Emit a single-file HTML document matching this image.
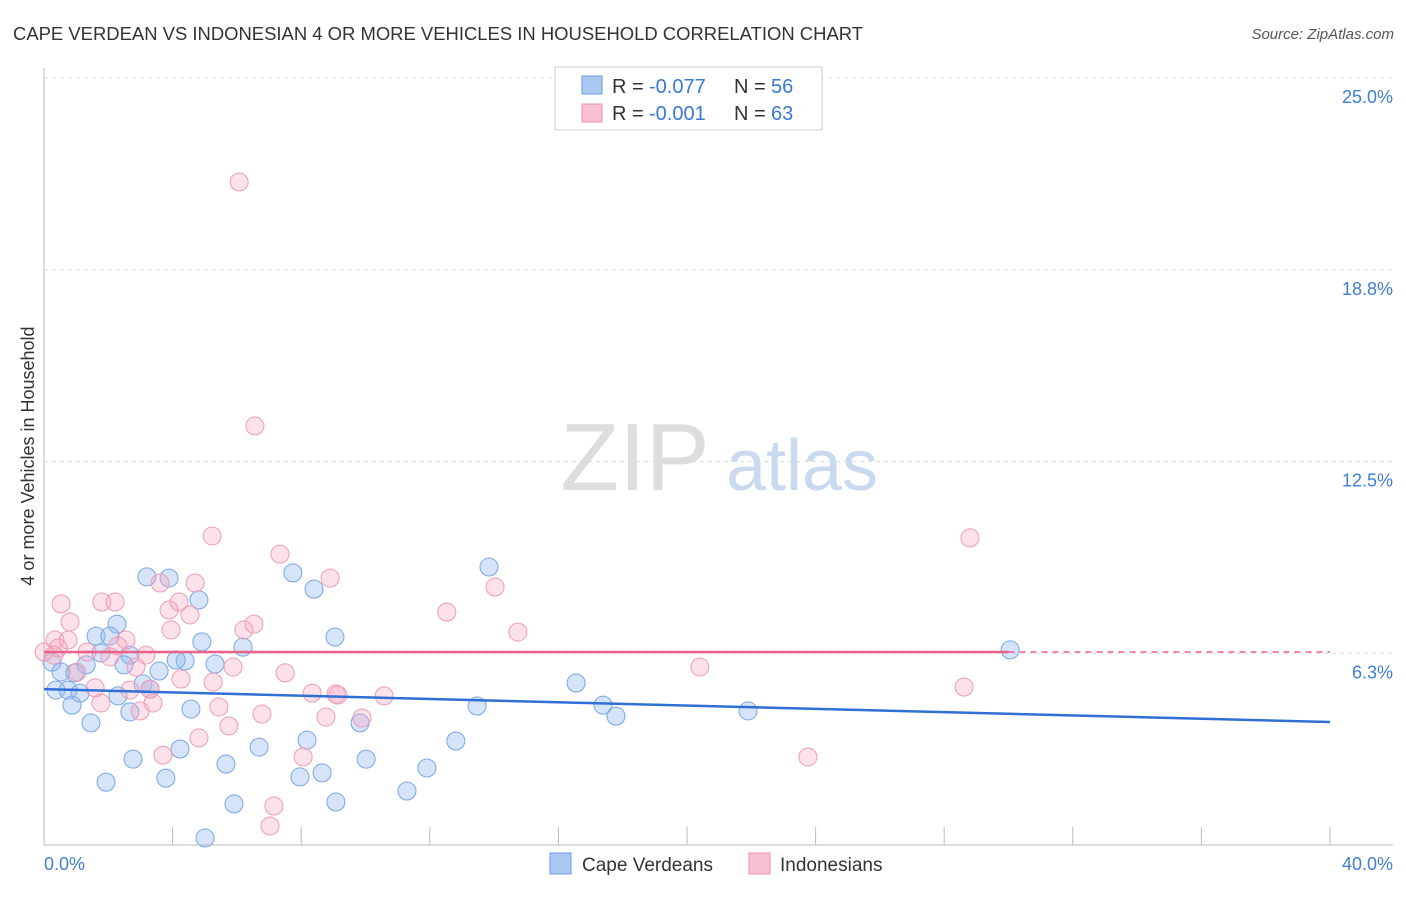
<!DOCTYPE html>
<html><head><meta charset="utf-8">
<style>
body{margin:0;background:#fff;font-family:"Liberation Sans",sans-serif;}
svg text{font-family:"Liberation Sans",sans-serif;}
</style></head>
<body>
<svg id="chart" width="1406" height="892" xmlns="http://www.w3.org/2000/svg">
<text x="13" y="40" font-size="18" fill="#333" textLength="850" lengthAdjust="spacingAndGlyphs">CAPE VERDEAN VS INDONESIAN 4 OR MORE VEHICLES IN HOUSEHOLD CORRELATION CHART</text>
<text x="1394" y="39" font-size="15" fill="#555" text-anchor="end" font-style="italic">Source: ZipAtlas.com</text>
<g>
<text x="635" y="490" font-size="96" fill="#ddd" text-anchor="middle" font-family="Liberation Serif">ZIP</text>
<text x="802" y="490" font-size="72" fill="#c8d9f0" text-anchor="middle">atlas</text>
</g>
<g id="grid"></g>
<g id="axes"></g>
<g id="points"></g>
<g id="trends"></g>
<text transform="translate(34,456) rotate(-90)" font-size="18" fill="#333" text-anchor="middle">4 or more Vehicles in Household</text>
<g>
<rect x="555" y="67" width="267" height="63" fill="#fff" stroke="#ccc"/>
<rect x="582" y="76" width="20" height="18" fill="#aac8f0" stroke="#6a9be0"/>
<rect x="582" y="104" width="20" height="18" fill="#f8c0d0" stroke="#eb8fab"/>
<text x="612" y="93" font-size="20" fill="#333">R = </text><text x="649" y="93" font-size="20" fill="#3a78d4">-0.077</text>
<text x="734" y="93" font-size="20" fill="#333">N = </text><text x="771" y="93" font-size="20" fill="#3a78d4">56</text>
<text x="612" y="120" font-size="20" fill="#333">R = </text><text x="649" y="120" font-size="20" fill="#3a78d4">-0.001</text>
<text x="734" y="120" font-size="20" fill="#333">N = </text><text x="771" y="120" font-size="20" fill="#3a78d4">63</text>
</g>
<g>
<rect x="550" y="853" width="21" height="21" fill="#aac8f0" stroke="#6a9be0"/>
<text x="582" y="871" font-size="19" fill="#333">Cape Verdeans</text>
<rect x="749" y="853" width="21" height="21" fill="#f8c0d0" stroke="#eb8fab"/>
<text x="780" y="871" font-size="19" fill="#333">Indonesians</text>
</g>
</svg>
<script>
const yTicks=[25,18.75,12.5,6.25];
const yTickLabels=["25.0%","18.8%","12.5%","6.3%"];
const xTicks=[0,4,8,12,16,20,24,28,32,36,40];
const blueX=[3.2,3.89,4.82,2.27,1.62,2.05,4.91,6.19,2.67,1.77,0.25,1.31,2.49,3.58,0.53,0.96,4.39,4.11,5.32,3.08,3.3,0.37,0.75,1.12,2.3,0.87,2.67,4.57,1.46,4.23,2.77,3.79,1.93,5.66,6.69,8.18,7.96,8.65,5.91,9.08,5.01,7.74,8.4,9.05,9.83,10.02,11.29,11.91,12.81,13.47,13.84,16.55,17.39,17.79,21.9,30.05];
const blueY=[8.74,8.7,7.99,7.2,6.81,6.81,6.62,6.45,6.19,6.26,5.96,5.87,5.87,5.67,5.64,5.61,6.0,6.03,5.9,5.25,5.08,5.05,5.05,4.95,4.86,4.56,4.34,4.43,3.98,3.13,2.8,2.18,2.05,2.64,3.19,3.42,2.22,2.35,1.34,1.4,0.23,8.87,8.34,6.78,3.98,2.8,1.76,2.51,3.39,4.53,9.06,5.28,4.56,4.2,4.37,6.36];
const pinkX=[6.07,6.56,5.23,7.34,28.8,8.9,4.7,3.61,1.8,2.21,0.53,4.2,3.89,4.54,12.53,14.03,14.74,0.81,6.22,6.53,3.95,0.34,0.44,0.75,2.55,2.3,3.17,1.34,2.05,0,0.31,5.88,7.5,5.26,4.26,2.86,1.03,1.59,3.3,2.67,8.34,9.08,9.14,10.58,20.4,28.62,5.44,3.39,1.77,2.99,6.78,8.77,9.89,5.75,4.82,3.7,8.06,23.76,7.15,7.03];
const pinkY=[21.61,13.66,10.07,9.48,10.01,8.7,8.54,8.54,7.92,7.92,7.86,7.92,7.66,7.5,7.59,8.41,6.94,7.27,7.01,7.2,7.01,6.68,6.42,6.68,6.68,6.49,6.19,6.29,6.13,6.29,6.19,5.8,5.61,5.31,5.41,5.8,5.64,5.12,5.08,5.05,4.95,4.92,4.89,4.86,5.8,5.15,4.5,4.63,4.63,4.37,4.27,4.17,4.14,3.88,3.49,2.93,2.87,2.87,1.27,0.62];
const blueTrend=[5.08,4.01];
const pinkTrend=[6.29,6.29];
const NS="http://www.w3.org/2000/svg";
const X=v=>44+v*(1330-44)/40;
const Y=v=>845-v*(845-78)/25;
function mk(tag,attrs,parent){const e=document.createElementNS(NS,tag);for(const k in attrs)e.setAttribute(k,attrs[k]);document.getElementById(parent).appendChild(e);return e;}
yTicks.forEach((t,i)=>{
 const l=mk('line',{x1:44,x2:1393,y1:Y(t),y2:Y(t),stroke:'#ddd','stroke-dasharray':'4,4'},'grid');
 
 
 const tx=mk('text',{x:1393,y:Y(t)+25,'font-size':18,fill:'#3f7fd6','text-anchor':'end'},'grid');
 tx.textContent=yTickLabels[i];
 
 
});
const ax=mk('line',{x1:44,x2:1393,y1:845,y2:845,stroke:'#bbb'},'axes');


const ay=mk('line',{x1:44,x2:44,y1:68,y2:845,stroke:'#bbb'},'axes');


xTicks.forEach(t=>{
 const l=mk('line',{x1:X(t),x2:X(t),y1:827,y2:845,stroke:'#bbb'},'axes');
 
 
});
const xl0=mk('text',{x:44,y:870,'font-size':18,fill:'#3f7fd6'},'axes');xl0.textContent='0.0%';


const xl1=mk('text',{x:1393,y:870,'font-size':18,fill:'#3f7fd6','text-anchor':'end'},'axes');xl1.textContent='40.0%';


blueX.forEach((v,i)=>{
 const c=mk('circle',{cx:X(v),cy:Y(blueY[i]),r:9,fill:'rgba(150,188,238,0.4)',stroke:'#7aa6e4','stroke-width':1},'points');
 
 
});
pinkX.forEach((v,i)=>{
 const c=mk('circle',{cx:X(v),cy:Y(pinkY[i]),r:9,fill:'rgba(245,170,195,0.35)',stroke:'#ee9cb5','stroke-width':1},'points');
 
 
});
const bl=mk('line',{x1:X(0),x2:X(40),y1:Y(blueTrend[0]),y2:Y(blueTrend[1]),stroke:'#2f6fd6','stroke-width':2.5},'trends');


const pl=mk('line',{x1:X(0),x2:X(30),y1:Y(pinkTrend[0]),y2:Y(pinkTrend[0]+(pinkTrend[1]-pinkTrend[0])*0.75),stroke:'#e8628a','stroke-width':2.5},'trends');


const pd=mk('line',{x1:X(30),x2:X(40),y1:Y(pinkTrend[0]),y2:Y(pinkTrend[1]),stroke:'#e8628a','stroke-width':1.5,'stroke-dasharray':'6,5'},'trends');


</script>
</body></html>
